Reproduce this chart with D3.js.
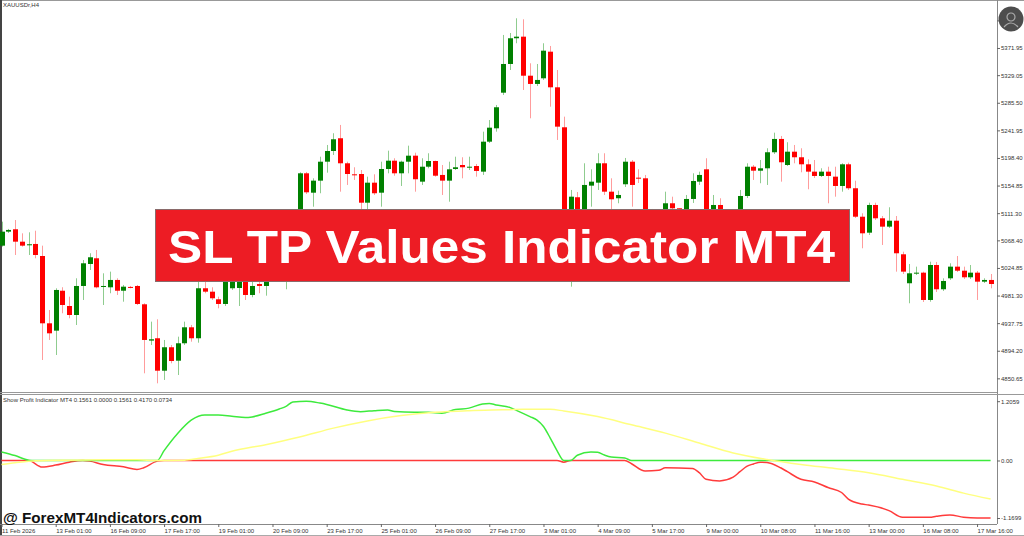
<!DOCTYPE html>
<html>
<head>
<meta charset="utf-8">
<title>SL TP Values Indicator MT4</title>
<script src="https://cdn.jsdelivr.net/npm/d3@7"></script>
<style>
  html, body { margin: 0; padding: 0; background: #fff; }
  svg { display: block; }
  .small { font-family: 'Liberation Sans', Arial, sans-serif; font-size: 6px; fill: #333; }
</style>
</head>
<body>
<svg id="chart"></svg>
<script>
// XAUUSD H4 candles, one entry per bar (left to right)
const opens = [
  5060.0, 5082.1, 5085.9, 5066.3, 5060.6, 5062.7, 5043.7, 4937.5, 4925.9, 4988.9,
  4964.8, 4950.6, 4996.4, 5031.1, 5040.1, 4995.3, 4994.3, 5005.9, 4988.9, 4994.9,
  4996.4, 4967.5, 4910.2, 4913.9, 4862.7, 4899.7, 4878.5, 4906.0, 4931.2, 4913.9,
  4992.8, 4987.4, 4975.4, 4968.0, 4992.8, 4993.2, 5003.2, 4982.2, 4999.5, 4996.4,
  5013.7, 5009.0, 5027.9, 5040.6, 5069.0, 5174.2, 5143.6, 5162.6, 5192.5, 5209.4,
  5229.5, 5190.0, 5172.6, 5173.1, 5127.8, 5159.4, 5143.6, 5181.0, 5194.1, 5174.2,
  5192.5, 5202.0, 5161.0, 5184.6, 5193.6, 5171.6, 5162.6, 5181.0, 5187.3, 5183.1,
  5185.7, 5176.8, 5224.1, 5245.2, 5301.4, 5346.7, 5387.3, 5389.8, 5328.2, 5315.2,
  5324.1, 5366.1, 5309.9, 5246.8, 5069.0, 5136.4, 5092.7, 5154.7, 5159.4, 5190.0,
  5145.2, 5134.8, 5156.9, 5192.5, 5167.3, 5166.3, 5100.5, 5113.2, 5097.4, 5126.9,
  5119.0, 5100.5, 5133.7, 5161.0, 5180.5, 5087.9, 5124.2, 5103.7, 5091.1, 5103.7,
  5138.4, 5184.6, 5178.3, 5182.1, 5207.4, 5228.4, 5187.3, 5208.3, 5199.5, 5188.4,
  5176.8, 5170.0, 5176.8, 5168.9, 5154.2, 5188.4, 5150.6, 5105.7, 5080.5, 5124.2,
  5103.2, 5090.0, 5099.4, 5046.4, 5000.7, 5016.4, 5017.4, 4974.3, 5029.5, 4991.2,
  5008.5, 5026.9, 5020.5, 5010.1, 5017.4, 5003.2, 5005.9
];
const highs = [
  5097.9, 5086.4, 5100.5, 5079.5, 5081.1, 5083.6, 5060.0, 4958.5, 4992.7, 4994.4,
  4979.5, 5008.5, 5037.4, 5048.0, 5053.2, 5016.4, 5019.0, 5008.5, 4998.0, 4996.4,
  4998.0, 4969.1, 4940.1, 4943.8, 4911.2, 4903.3, 4916.4, 4940.1, 4934.9, 5003.2,
  5005.9, 4994.3, 4979.5, 5018.5, 5027.9, 5032.7, 5013.7, 5003.2, 5005.9, 5021.6,
  5024.8, 5037.4, 5050.0, 5075.3, 5175.8, 5176.3, 5166.3, 5200.4, 5218.9, 5237.4,
  5250.5, 5192.5, 5183.7, 5179.4, 5168.9, 5172.6, 5192.5, 5209.9, 5197.9, 5194.1,
  5217.8, 5206.7, 5197.9, 5205.8, 5194.1, 5187.3, 5192.5, 5200.4, 5199.5, 5200.4,
  5188.9, 5239.9, 5258.3, 5282.0, 5392.5, 5395.6, 5418.8, 5417.2, 5347.8, 5346.7,
  5379.4, 5375.1, 5337.2, 5263.6, 5147.9, 5144.7, 5190.0, 5180.5, 5205.8, 5205.8,
  5166.3, 5146.8, 5198.4, 5195.2, 5180.5, 5171.6, 5117.9, 5116.3, 5145.2, 5137.3,
  5119.0, 5140.0, 5174.2, 5176.8, 5197.9, 5140.0, 5134.8, 5110.0, 5113.2, 5147.9,
  5190.0, 5187.3, 5195.2, 5213.7, 5238.3, 5233.1, 5223.2, 5218.9, 5213.7, 5196.3,
  5195.2, 5182.1, 5184.6, 5184.6, 5190.0, 5191.0, 5162.5, 5111.1, 5127.8, 5127.8,
  5106.8, 5120.6, 5106.8, 5050.5, 5031.1, 5026.9, 5018.9, 5034.7, 5034.3, 5008.5,
  5032.2, 5043.7, 5026.9, 5029.5, 5020.1, 5008.5, 5015.3
];
const lows = [
  5058.4, 5080.0, 5045.3, 5058.4, 5045.3, 5040.1, 4879.6, 4911.2, 4887.5, 4953.3,
  4945.4, 4934.8, 4974.3, 5021.6, 4992.7, 4966.4, 4984.9, 4982.2, 4971.6, 4992.7,
  4966.4, 4858.6, 4903.3, 4842.8, 4848.1, 4874.4, 4855.9, 4903.3, 4908.5, 4906.9,
  4984.9, 4974.3, 4961.2, 4964.8, 4990.1, 4964.8, 4974.3, 4978.6, 4984.9, 4981.1,
  5006.7, 5005.9, 4991.2, 5034.3, 5061.1, 5141.6, 5121.5, 5142.7, 5175.2, 5203.1,
  5145.2, 5155.8, 5163.7, 5113.2, 5116.3, 5140.0, 5121.5, 5174.2, 5170.4, 5154.2,
  5174.2, 5145.2, 5155.8, 5182.1, 5168.9, 5140.0, 5129.4, 5179.4, 5166.3, 5179.4,
  5168.9, 5171.6, 5222.0, 5239.9, 5297.8, 5337.2, 5379.4, 5305.7, 5261.0, 5312.0,
  5321.5, 5279.3, 5226.8, 5053.2, 4995.3, 5081.6, 5084.8, 5121.5, 5147.9, 5140.0,
  5116.3, 5126.9, 5152.6, 5121.5, 5158.9, 5087.9, 5087.9, 5081.6, 5084.8, 5092.7,
  5087.9, 5092.7, 5127.4, 5155.8, 5076.9, 5081.6, 5092.7, 5076.9, 5081.6, 5097.4,
  5135.2, 5163.7, 5158.5, 5155.8, 5204.7, 5161.0, 5185.7, 5190.0, 5175.8, 5149.0,
  5166.8, 5168.4, 5126.9, 5137.3, 5145.2, 5147.9, 5103.7, 5055.9, 5076.9, 5100.5,
  5061.1, 5087.9, 5019.0, 5015.3, 4969.1, 5013.7, 4971.1, 4971.6, 4986.9, 4988.5,
  5005.9, 5018.5, 5007.4, 5007.4, 4974.3, 5001.1, 4992.7
];
const closes = [
  5082.1, 5084.8, 5066.3, 5060.0, 5062.2, 5045.3, 4937.5, 4921.7, 4990.1, 4966.4,
  4950.6, 4996.4, 5032.2, 5041.7, 4994.3, 4996.4, 5005.9, 4988.9, 4995.3, 4993.8,
  4968.0, 4911.2, 4912.3, 4862.7, 4899.7, 4878.0, 4906.0, 4931.2, 4913.9, 4992.8,
  4987.4, 4977.0, 4968.0, 5012.2, 5018.5, 5021.7, 4982.2, 4996.4, 4996.4, 5013.7,
  5009.0, 5029.5, 5040.6, 5069.0, 5174.2, 5144.2, 5162.6, 5192.5, 5209.4, 5227.9,
  5190.0, 5173.1, 5171.6, 5127.8, 5159.4, 5142.7, 5181.0, 5194.1, 5174.2, 5192.5,
  5202.0, 5164.8, 5184.6, 5193.6, 5170.4, 5162.6, 5180.5, 5183.7, 5183.7, 5184.6,
  5177.9, 5224.1, 5246.2, 5278.4, 5346.7, 5387.3, 5389.8, 5328.2, 5315.2, 5321.5,
  5367.7, 5309.9, 5247.8, 5069.0, 5137.3, 5092.7, 5155.8, 5161.0, 5190.0, 5145.2,
  5133.2, 5140.0, 5192.5, 5155.8, 5165.7, 5100.5, 5113.2, 5097.4, 5126.9, 5119.0,
  5100.5, 5133.7, 5162.1, 5171.6, 5087.9, 5124.2, 5103.7, 5091.1, 5103.7, 5138.4,
  5184.6, 5178.3, 5182.1, 5207.4, 5228.4, 5191.6, 5208.3, 5199.5, 5188.4, 5176.8,
  5170.0, 5176.8, 5170.0, 5154.2, 5188.4, 5150.6, 5105.7, 5079.5, 5124.2, 5103.2,
  5090.0, 5099.4, 5048.0, 5019.0, 5016.4, 5017.4, 4974.3, 5029.5, 4991.2, 5004.3,
  5026.9, 5020.5, 5010.1, 5017.4, 5003.2, 5005.9, 4999.5
];

const priceTicks = [5415.50, 5371.95, 5329.05, 5285.50, 5241.95, 5198.40, 5154.85,
  5111.30, 5068.40, 5024.85, 4981.30, 4937.75, 4894.20, 4850.65];

// one label every 8 bars
const timeLabels = ['11 Feb 2026', '13 Feb 01:00', '16 Feb 09:00', '17 Feb 17:00',
  '19 Feb 01:00', '20 Feb 09:00', '23 Feb 17:00', '25 Feb 01:00', '26 Feb 09:00',
  '27 Feb 17:00', '3 Mar 01:00', '4 Mar 09:00', '5 Mar 17:00', '9 Mar 00:00',
  '10 Mar 08:00', '11 Mar 16:00', '13 Mar 00:00', '16 Mar 08:00', '17 Mar 16:00'];

const indTicks = [1.2059, 0, -1.1699];
const indTickLabels = ['1.2059', '0.00', '-1.1699'];

// indicator lines: [bar, value]
const greenLine = [[0,0.174],[2,0.1],[4,0.007],[5,0],[23,0],[24,0.2],[26,0.55],[28,0.82],
  [30,0.926],[32,0.926],[34,0.9],[36,0.872],[37,0.886],[39,0.96],[41,1.047],[42,1.1],
  [43,1.19],[45,1.2059],[47,1.168],[48,1.14],[51,1.027],[53,0.993],[55,1.013],[57,1.027],
  [58,0.995],[61,0.98],[63,0.98],[65,0.96],[67,1.035],[69,1.065],[71,1.15],[72,1.16],
  [73,1.13],[75,1.081],[76,1.02],[78,0.893],[79,0.826],[80,0.691],[81,0.456],[82,0.201],
  [83,0],[84,0],[85,0.107],[87,0.174],[88,0.168],[89,0.11],[90,0.07],[92,0.05],[93,0],[146,0]];
const yellowLine = [[0,-0.081],[2,-0.047],[5,-0.007],[10,0.007],[15,0.013],[20,0.013],
  [23,0],[27,0.007],[29,0.04],[32,0.107],[34,0.188],[39,0.322],[44,0.477],[49,0.658],
  [54,0.805],[59,0.913],[64,0.98],[69,1.013],[74,1.03],[77,1.04],[81,1.04],[83,1.007],
  [88,0.893],[93,0.725],[98,0.557],[103,0.356],[108,0.154],[113,0.02],[118,-0.081],
  [123,-0.161],[128,-0.248],[133,-0.383],[138,-0.517],[142,-0.664],[146,-0.785]];
const redLine = [[0,0],[4,0],[6,-0.134],[8,-0.094],[10,-0.034],[12,0],[13,-0.013],
  [15,-0.081],[18,-0.128],[20,-0.181],[21,-0.148],[23,-0.013],[24,0],[82,0],[83,-0.034],
  [84,0],[92,0],[93,-0.067],[95,-0.215],[97,-0.201],[98,-0.148],[102,-0.161],[103,-0.248],
  [104,-0.383],[106,-0.416],[108,-0.34],[109,-0.228],[110,-0.12],[111,-0.07],[112,-0.034],
  [113,-0.04],[115,-0.148],[116,-0.228],[118,-0.383],[120,-0.436],[122,-0.55],[124,-0.651],
  [125,-0.785],[127,-0.886],[128,-0.906],[131,-1.02],[133,-1.154],[137,-1.154],[138,-1.134],
  [140,-1.107],[142,-1.154],[144,-1.1699],[146,-1.168]];

const symbolLabel = 'XAUUSDr,H4';
const indicatorLabel = 'Show Profit Indicator MT4 0.1561 0.0000 0.1561 0.4170 0.0734';
const bannerText = 'SL TP Values Indicator MT4';
const watermark = '@ ForexMT4Indicators.com';

(() => {
  const svgWidth = 1024;
  const svgHeight = 536;
  const axisX = 997;
  const mainBottom = 392;
  const subTop = 394;
  const subBottom = 524;

  const svg = d3.select('#chart')
    .attr('width', svgWidth)
    .attr('height', svgHeight);

  svg.append('rect')
    .attr('width', svgWidth)
    .attr('height', svgHeight)
    .attr('fill', '#fff');

  const bars = d3.range(opens.length);

  const xScale = d3.scaleLinear()
    .domain([0, opens.length - 1])
    .range([1.5, 990.6]);

  const yScale = d3.scaleLinear()
    .domain([4829.1, 5444.5])
    .range([mainBottom, 2]);

  const iScale = d3.scaleLinear()
    .domain([-1.1699, 1.2059])
    .range([518, 401.2]);

  // frame
  const frame = svg.append('g').attr('fill', 'none');
  frame.append('line').attr('x1', 0).attr('x2', svgWidth).attr('y1', 0.5).attr('y2', 0.5).attr('stroke', '#999');
  frame.append('line').attr('x1', 1).attr('x2', 1).attr('y1', 0).attr('y2', svgHeight).attr('stroke', '#444').attr('stroke-width', 2);
  frame.append('line').attr('x1', axisX + 0.5).attr('x2', axisX + 0.5).attr('y1', 0).attr('y2', subBottom).attr('stroke', '#888');
  frame.append('line').attr('x1', 0).attr('x2', axisX).attr('y1', mainBottom + 0.5).attr('y2', mainBottom + 0.5).attr('stroke', '#999');
  frame.append('line').attr('x1', 0).attr('x2', svgWidth).attr('y1', subTop + 0.5).attr('y2', subTop + 0.5).attr('stroke', '#999');
  frame.append('line').attr('x1', 0).attr('x2', axisX).attr('y1', subBottom + 0.5).attr('y2', subBottom + 0.5).attr('stroke', '#888');
  frame.append('line').attr('x1', 0).attr('x2', svgWidth).attr('y1', svgHeight - 0.5).attr('y2', svgHeight - 0.5).attr('stroke', '#aaa');

  // candles
  const isUp = i => closes[i] >= opens[i];
  const cx = i => Math.round(xScale(i));

  svg.append('g')
    .selectAll('line')
    .data(bars)
    .enter()
    .append('line')
    .attr('x1', i => cx(i) + 0.5)
    .attr('x2', i => cx(i) + 0.5)
    .attr('y1', i => yScale(highs[i]))
    .attr('y2', i => yScale(lows[i]))
    .attr('stroke', i => isUp(i) ? '#8fcc8f' : '#ff9c9c')
    .attr('stroke-width', 1);

  svg.append('g')
    .selectAll('rect')
    .data(bars)
    .enter()
    .append('rect')
    .attr('x', i => cx(i) - 2)
    .attr('width', 5)
    .attr('y', i => yScale(Math.max(opens[i], closes[i])))
    .attr('height', i => Math.max(1, Math.abs(yScale(opens[i]) - yScale(closes[i]))))
    .attr('fill', i => isUp(i) ? '#008000' : '#ff0000');

  // price axis
  const priceAxis = svg.append('g')
    .attr('transform', `translate(${axisX}, 0)`)
    .call(d3.axisRight(yScale).tickValues(priceTicks).tickFormat(d3.format('.2f')).tickSize(3).tickPadding(1));
  priceAxis.select('.domain').remove();
  priceAxis.selectAll('line').attr('stroke', '#666');
  priceAxis.selectAll('text').attr('class', 'small').attr('fill', '#333');

  // indicator axis
  const indAxis = svg.append('g')
    .attr('transform', `translate(${axisX}, 0)`)
    .call(d3.axisRight(iScale).tickValues(indTicks).tickFormat((d, k) => indTickLabels[k]).tickSize(3).tickPadding(1));
  indAxis.select('.domain').remove();
  indAxis.selectAll('line').attr('stroke', '#666');
  indAxis.selectAll('text').attr('class', 'small').attr('fill', '#333');

  // time axis
  const timeAxis = svg.append('g')
    .attr('transform', `translate(0, ${subBottom})`)
    .call(d3.axisBottom(xScale)
      .tickValues(timeLabels.map((d, k) => k * 8))
      .tickFormat((d, k) => timeLabels[k])
      .tickSize(3)
      .tickPadding(2));
  timeAxis.select('.domain').remove();
  timeAxis.selectAll('line').attr('stroke', '#666');
  timeAxis.selectAll('text')
    .attr('class', 'small')
    .attr('fill', '#333')
    .attr('text-anchor', 'start')
    .attr('dx', 0);

  // indicator lines
  const line = d3.line()
    .x(d => xScale(d[0]))
    .y(d => iScale(d[1]))
    .curve(d3.curveMonotoneX);

  const series = [
    { data: redLine, color: '#ff3b3b' },
    { data: greenLine, color: '#3dea3d' },
    { data: yellowLine, color: '#ffff80' }
  ];
  series.forEach(s => {
    svg.append('path')
      .datum(s.data)
      .attr('fill', 'none')
      .attr('stroke', s.color)
      .attr('stroke-width', 1.5)
      .attr('d', line);
  });

  // texts
  svg.append('text')
    .attr('class', 'small')
    .attr('x', 3)
    .attr('y', 7)
    .text(symbolLabel);

  svg.append('text')
    .attr('class', 'small')
    .attr('x', 3)
    .attr('y', 402)
    .text(indicatorLabel);

  // banner
  svg.append('rect')
    .attr('x', 155.5)
    .attr('y', 209.5)
    .attr('width', 694)
    .attr('height', 72)
    .attr('fill', '#ed1c24')
    .attr('stroke', '#8a6a6a');

  svg.append('text')
    .attr('x', 168)
    .attr('y', 263)
    .attr('textLength', 667)
    .attr('lengthAdjust', 'spacingAndGlyphs')
    .attr('font-family', "'Liberation Sans', Arial, sans-serif")
    .attr('font-weight', 'bold')
    .attr('font-size', 46)
    .attr('fill', '#fff')
    .text(bannerText);

  svg.append('text')
    .attr('x', 3)
    .attr('y', 523)
    .attr('textLength', 199)
    .attr('lengthAdjust', 'spacingAndGlyphs')
    .attr('font-family', "'Liberation Sans', Arial, sans-serif")
    .attr('font-weight', 'bold')
    .attr('font-size', 14)
    .attr('fill', '#111')
    .text(watermark);

  // avatar icon in the top right corner
  const icon = svg.append('g').attr('transform', 'translate(1011, 19)');
  icon.append('circle').attr('r', 12.5).attr('fill', '#4d4d4d');
  icon.append('circle').attr('cy', -2).attr('r', 4).attr('fill', 'none').attr('stroke', '#aaa').attr('stroke-width', 1.2);
  icon.append('path').attr('d', 'M-7,8 Q0,0 7,8').attr('fill', 'none').attr('stroke', '#aaa').attr('stroke-width', 1.2);
})();
</script>
</body>
</html>
